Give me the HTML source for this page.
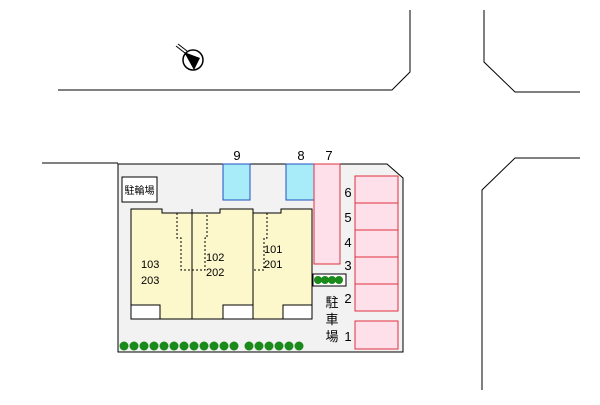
<!DOCTYPE html><html><head><style>body{margin:0;background:#fff}</style></head><body>
<svg width="600" height="400" xmlns="http://www.w3.org/2000/svg" font-family="Liberation Sans, Noto Sans CJK JP, sans-serif">
<g fill="none" stroke="#000" stroke-width="1">
<polyline points="58,90 392,90 410,72 410,10"/>
<polyline points="484,10 484,62 515,92 580,92"/>
<polyline points="580,158 515,158 482,190 482,390"/>
<line x1="42" y1="163" x2="118" y2="163"/>
</g>
<polygon points="118,164 387,164 403,178 403,352 118,352" fill="#f2f2f2" stroke="#000"/>
<rect x="122" y="177" width="35" height="25" fill="#fff" stroke="#000"/>
<text x="139.5" y="194" font-size="10" text-anchor="middle">駐輪場</text>
<rect x="223" y="164" width="27" height="36" fill="#a8ecfa" stroke="#2050c0"/>
<rect x="286" y="164" width="28" height="36" fill="#a8ecfa" stroke="#2050c0"/>
<rect x="314" y="164" width="26" height="100" fill="#fde0ea" stroke="#e03040"/>
<polygon points="131,209 162,209 162,213 220,213 220,209 253,209 253,213 281,213 281,209 312,209 312,319 131,319" fill="#fdf7cc" stroke="#000"/>
<line x1="192" y1="209" x2="192" y2="319" stroke="#000"/>
<line x1="253" y1="209" x2="253" y2="319" stroke="#000"/>
<g fill="none" stroke="#000" stroke-dasharray="2,2">
<polyline points="177,213 177,238 181,238 181,270 205,270 205,238 207,238 207,213"/>
<polyline points="267,213 267,238 264,238 264,270 254,270"/>
</g>
<g fill="#fff" stroke="#000">
<rect x="131" y="305" width="29" height="14"/><rect x="223" y="305" width="30" height="14"/><rect x="283" y="305" width="29" height="14"/>
</g>
<g font-size="11" fill="#000">
<text x="141" y="268">103</text><text x="141" y="284">203</text>
<text x="206" y="261">102</text><text x="206" y="276">202</text>
<text x="264" y="253">101</text><text x="264" y="268">201</text>
</g>
<rect x="313" y="274" width="33" height="12" fill="#fff" stroke="#000"/>
<g fill="#1a8a1a">
<circle cx="318" cy="280" r="4"/><circle cx="325" cy="280" r="4"/><circle cx="332" cy="280" r="4"/><circle cx="339" cy="280" r="4"/>
</g>
<g fill="#1a8a1a">
<circle cx="124" cy="346" r="4.5"/><circle cx="134" cy="346" r="4.5"/><circle cx="144" cy="346" r="4.5"/><circle cx="154" cy="346" r="4.5"/><circle cx="164" cy="346" r="4.5"/><circle cx="174" cy="346" r="4.5"/><circle cx="184" cy="346" r="4.5"/><circle cx="194" cy="346" r="4.5"/><circle cx="204" cy="346" r="4.5"/><circle cx="214" cy="346" r="4.5"/><circle cx="224" cy="346" r="4.5"/><circle cx="234" cy="346" r="4.5"/><circle cx="249" cy="346" r="4.5"/><circle cx="259" cy="346" r="4.5"/><circle cx="269" cy="346" r="4.5"/><circle cx="279" cy="346" r="4.5"/><circle cx="289" cy="346" r="4.5"/><circle cx="299" cy="346" r="4.5"/>
</g>
<g fill="#fde0ea" stroke="#e03040">
<rect x="355" y="176" width="43" height="27"/><rect x="355" y="203" width="43" height="27"/><rect x="355" y="230" width="43" height="27"/><rect x="355" y="257" width="43" height="27"/><rect x="355" y="284" width="43" height="27"/><rect x="355" y="321" width="43" height="28"/>
</g>
<g font-size="13" fill="#000" text-anchor="middle">
<text x="237" y="160">9</text><text x="301" y="160">8</text><text x="329" y="160">7</text>
<text x="348" y="197">6</text><text x="348" y="222">5</text><text x="348" y="247">4</text><text x="348" y="270">3</text><text x="348" y="303">2</text><text x="348" y="341">1</text>
<text x="332" y="307">駐</text><text x="332" y="324">車</text><text x="332" y="341">場</text>
</g>
<circle cx="193" cy="60" r="10" fill="#fff" stroke="#000" stroke-width="1.5"/>
<polygon points="184,52 200,58 194,70" fill="#000"/>
<line x1="176" y1="46" x2="185" y2="53" stroke="#000"/>
<line x1="178" y1="44" x2="187" y2="51" stroke="#000"/>
</svg></body></html>
